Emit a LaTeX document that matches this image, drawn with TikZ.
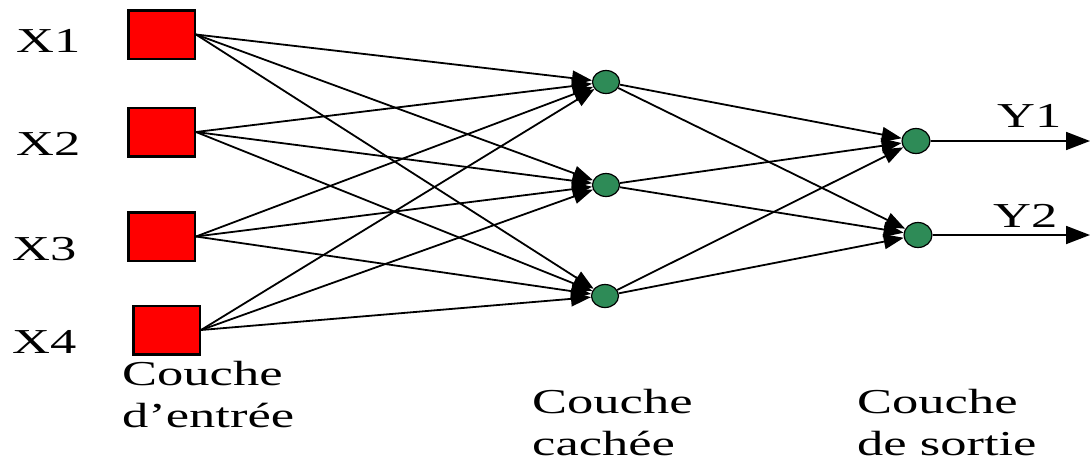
\documentclass[tikz,border=0pt]{standalone}
\usepackage{fontspec}
\setmainfont{Liberation Serif}[FakeStretch=1.5]
\usetikzlibrary{arrows.meta,shapes.geometric}
\definecolor{neurongreen}{RGB}{46,139,87}
\begin{document}
\begin{tikzpicture}[x=1pt,y=-1pt,
  inbox/.style={rectangle,draw=black,line width=2.5pt,fill=red,
    minimum width=66.5pt,minimum height=48.5pt,inner sep=0pt},
  neuron/.style={ellipse,draw=black,line width=1.2pt,fill=neurongreen,
    minimum width=27pt,minimum height=23pt,inner sep=0pt},
  lbl/.style={font=\fontsize{35}{42}\selectfont,inner sep=0pt,
    anchor=base west,align=left},
  link/.style={draw=black,line width=1.8pt,
    -{Triangle[length=20pt,width=15pt]}},
  outlink/.style={draw=black,line width=1.8pt,
    -{Triangle[length=24pt,width=18pt]}}]
\useasboundingbox (0,0) rectangle (1091,461);

% input layer
\node[inbox] (x1) at (161.5,34.5) {};
\node[inbox] (x2) at (161.5,132) {};
\node[inbox] (x3) at (161.5,236.5) {};
\node[inbox] (x4) at (166.5,330) {};

% hidden layer
\node[neuron] (h1) at (606,82) {};
\node[neuron] (h2) at (606,185) {};
\node[neuron] (h3) at (605,296) {};

% output layer
\node[neuron,minimum width=28pt,minimum height=25pt] (o1) at (916,141) {};
\node[neuron,minimum width=28pt,minimum height=25pt] (o2) at (918,235) {};

\coordinate (e1) at (1090,141);
\coordinate (e2) at (1090,235);

% connections input -> hidden
\foreach \i in {1,...,4}
  \foreach \j in {1,2,3}
    \draw[link] (x\i.east) -- (h\j);

% connections hidden -> output
\foreach \j in {1,2,3}
  \foreach \k in {1,2}
    \draw[link] (h\j) -- (o\k);

% outputs
\draw[outlink] (o1) -- (e1);
\draw[outlink] (o2) -- (e2);

% labels
\node[lbl] (lx1) at (16,52) {X1};
\node[lbl] (lx2) at (16,155) {X2};
\node[lbl] (lx3) at (12,260) {X3};
\node[lbl] (lx4) at (12,353) {X4};
\node[lbl] (ly1) at (997,127) {Y1};
\node[lbl] (ly2) at (993,227) {Y2};

% layer captions (anchored on the baseline of their last line)
\node[lbl] (cin) at (122,427) {Couche\\d’entrée};
\node[lbl] (chid) at (532,455) {Couche\\cachée};
\node[lbl] (cout) at (857,455) {Couche\\de sortie};
\end{tikzpicture}
\end{document}
